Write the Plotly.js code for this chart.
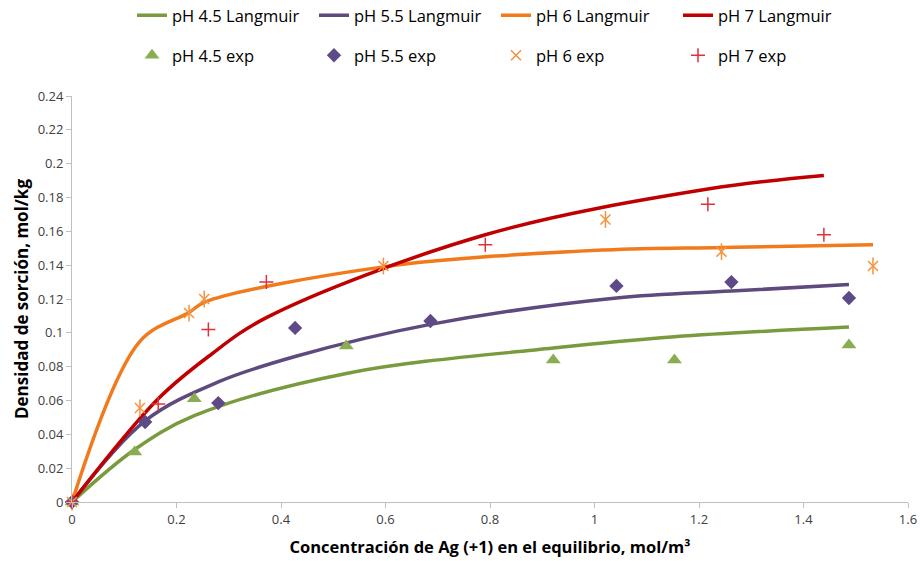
<!DOCTYPE html>
<html>
<head>
<meta charset="utf-8">
<script src="https://cdn.plot.ly/plotly-3.0.1.min.js"></script>
<style>html,body{margin:0;padding:0;background:#fff;}#chart{width:920px;height:561px;}</style>
</head>
<body>
<div id="chart"></div>
<script>
// Experimental data
var x45 = [0, 0.12, 0.234, 0.525, 0.921, 1.153, 1.487];
var y45exp = [0, 0.0296, 0.061, 0.0922, 0.084, 0.084, 0.0928];
var x55 = [0, 0.14, 0.28, 0.427, 0.686, 1.042, 1.262, 1.487];
var y55exp = [0, 0.0473, 0.0585, 0.1029, 0.107, 0.1277, 0.130, 0.1206];
var x6 = [0, 0.13, 0.224, 0.253, 0.596, 1.021, 1.243, 1.533];
var y6exp = [0, 0.0556, 0.1117, 0.120, 0.1395, 0.167, 0.148, 0.1395];
var x7 = [0, 0.165, 0.261, 0.372, 0.791, 1.217, 1.439];
var y7exp = [0, 0.058, 0.102, 0.130, 0.152, 0.176, 0.158];

var y45lang = [0, 0.031, 0.051, 0.076, 0.091, 0.0977, 0.1034];
var y55lang = [0, 0.048, 0.071, 0.086, 0.105, 0.1206, 0.1247, 0.1285];
var y6lang = [0, 0.095, 0.112, 0.118, 0.139, 0.149, 0.1505, 0.152];
var y7lang = [0, 0.061, 0.086, 0.109, 0.158, 0.185, 0.193];

var font = "'Open Sans', 'Noto Sans', sans-serif";

function lineTrace(x, y, name, color) {
  return {x: x, y: y, name: name, type: 'scatter', mode: 'lines',
    line: {color: color, width: 3.5, shape: 'spline', smoothing: 1},
    legend: 'legend', cliponaxis: false};
}
function markTrace(x, y, name, symbol, color, size, filled, show) {
  var m = {symbol: symbol, size: size, color: color};
  if (!filled) { m.line = {color: color, width: 1.5}; }
  else { m.line = {width: 0}; }
  return {x: x, y: y, name: name, type: 'scatter', mode: 'markers',
    marker: m, legend: 'legend2', cliponaxis: false, showlegend: show};
}

var data = [
  lineTrace(x45, y45lang, 'pH 4.5 Langmuir', '#7A9A3E'),
  lineTrace(x55, y55lang, 'pH 5.5 Langmuir', '#5F4A7E'),
  lineTrace(x6, y6lang, 'pH 6 Langmuir', '#F07A1C'),
  lineTrace(x7, y7lang, 'pH 7 Langmuir', '#C00000'),
  markTrace(x45, y45exp, 'pH 4.5 exp', 'triangle-up', '#8BAD52', 13, true, true),
  markTrace(x55, y55exp, 'pH 5.5 exp', 'diamond', '#5E4A88', 11, true, true),
  markTrace(x6, y6exp, 'pH 6 exp', 'x-thin-open', '#F5923E', 10, false, true),
  markTrace(x6, y6exp, 'pH 6 exp', 'line-ns-open', '#F5923E', 12, false, false),
  markTrace(x7, y7exp, 'pH 7 exp', 'cross-thin-open', '#E0303A', 10, false, true)
];

var axisCommon = {
  showgrid: false, zeroline: false, showline: true, linecolor: '#BFBFBF', linewidth: 1,
  ticks: 'outside', ticklen: 5, tickcolor: '#BFBFBF', tickwidth: 1,
  tickfont: {family: font, size: 13, color: '#404040'}
};

var layout = {
  width: 920, height: 561,
  margin: {l: 72, r: 12, t: 96, b: 59, autoexpand: false},
  paper_bgcolor: '#fff', plot_bgcolor: '#fff',
  showlegend: true,
  xaxis: Object.assign({}, axisCommon, {
    range: [0, 1.6], tickvals: [0, 0.2, 0.4, 0.6, 0.8, 1, 1.2, 1.4, 1.6],
    ticktext: ['0', '0.2', '0.4', '0.6', '0.8', '1', '1.2', '1.4', '1.6'],
    automargin: false,
    title: {text: 'Concentración de Ag (+1) en el equilibrio, mol/m³',
      font: {family: font, size: 16.5, color: '#000', weight: 'bold'}, standoff: 14}
  }),
  yaxis: Object.assign({}, axisCommon, {
    range: [0, 0.24], tickvals: [0, 0.02, 0.04, 0.06, 0.08, 0.1, 0.12, 0.14, 0.16, 0.18, 0.2, 0.22, 0.24],
    ticktext: ['0', '0.02', '0.04', '0.06', '0.08', '0.1', '0.12', '0.14', '0.16', '0.18', '0.2', '0.22', '0.24'],
    automargin: false,
    title: {text: 'Densidad de sorción, mol/kg',
      font: {family: font, size: 17, color: '#000', weight: 'bold'}, standoff: 4}
  }),
  legend: {orientation: 'h', xref: 'paper', yref: 'paper',
    font: {family: font, size: 16.5, color: '#000'}, entrywidth: 137, entrywidthmode: 'pixels',
    bgcolor: 'rgba(0,0,0,0)'},
  legend2: {orientation: 'h', xref: 'paper', yref: 'paper',
    font: {family: font, size: 16.5, color: '#000'}, entrywidth: 137, entrywidthmode: 'pixels',
    bgcolor: 'rgba(0,0,0,0)'}
};
// place legends in paper coordinates (computed from the plot area)
var pw = 920 - 72 - 12, ph = 561 - 96 - 59;
layout.legend.x = (132 - 72) / pw;
layout.legend.y = 1 + (96 + 2) / ph;
layout.legend.yanchor = 'top';
layout.legend.xanchor = 'left';
layout.legend2.x = (132 - 72) / pw;
layout.legend2.y = 1 + (96 - 38) / ph;
layout.legend2.yanchor = 'top';
layout.legend2.xanchor = 'left';

Plotly.newPlot('chart', data, layout, {displayModeBar: false, staticPlot: true});
</script>
</body>
</html>
